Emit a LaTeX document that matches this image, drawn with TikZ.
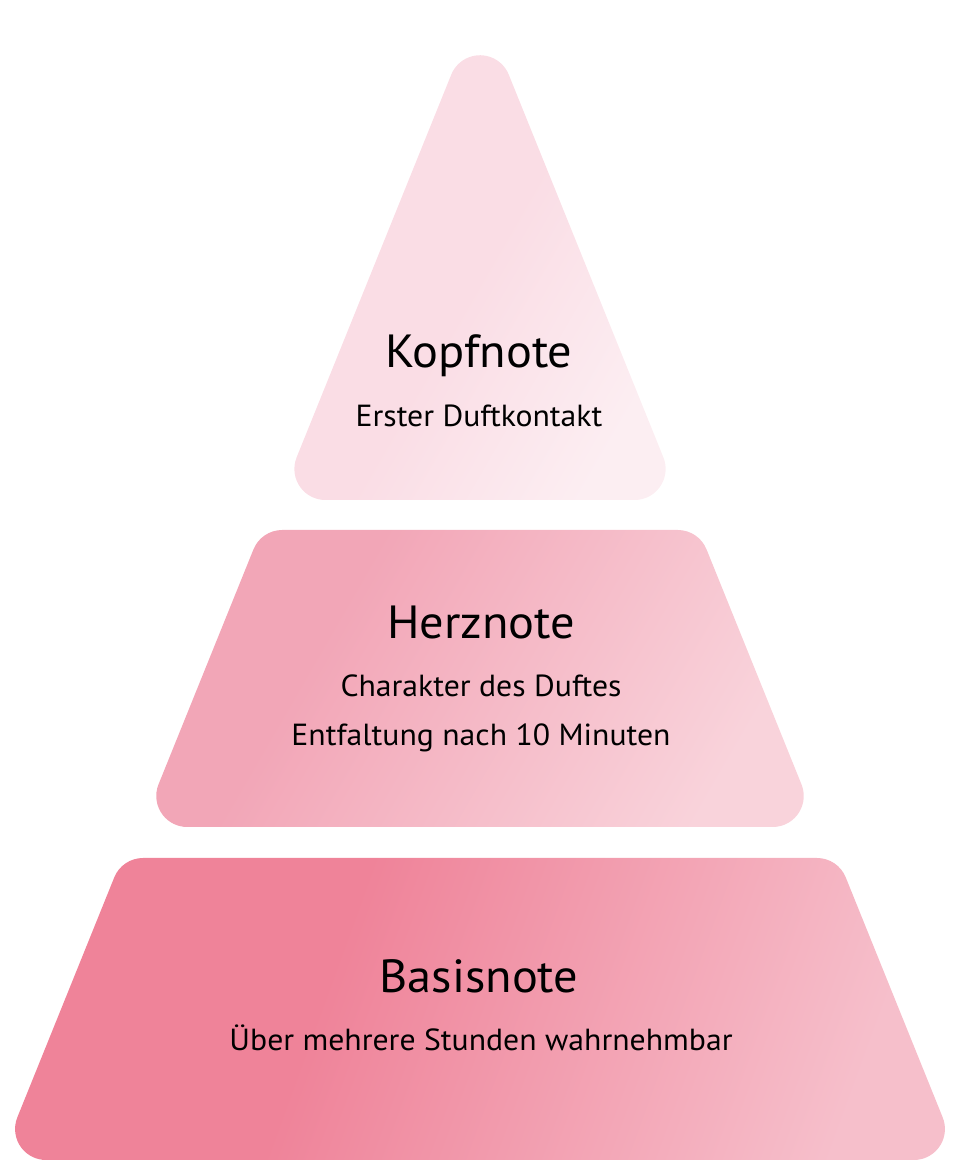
\documentclass[tikz,border=0pt]{standalone}
\usepackage{fontspec}
\setmainfont{PT Sans}[FakeStretch=1.04]
\usetikzlibrary{calc}
\definecolor{kopfA}{HTML}{FADDE5}
\definecolor{kopfB}{HTML}{FCEEF2}
\definecolor{herzA}{HTML}{F2A6B7}
\definecolor{herzB}{HTML}{F9D3DB}
\definecolor{basisA}{HTML}{EF8399}
\definecolor{basisB}{HTML}{F6BFCB}
\pgfdeclarehorizontalshading{kopfshade}{100bp}{color(0bp)=(kopfA); color(50bp)=(kopfA); color(75bp)=(kopfB); color(100bp)=(kopfB)}
\pgfdeclarehorizontalshading{herzshade}{100bp}{color(0bp)=(herzA); color(35bp)=(herzA); color(75bp)=(herzB); color(100bp)=(herzB)}
\pgfdeclarehorizontalshading{basisshade}{100bp}{color(0bp)=(basisA); color(40bp)=(basisA); color(75bp)=(basisB); color(100bp)=(basisB)}
\newcommand\cornerR{31}
\newcommand\tanBot{45.96}
\newcommand\tanTop{20.91}
% #1 style, #2 Y top, #3 Y bottom, #4 x top-left, #5 x bottom-left
\newcommand\trapband[5]{%
  \shade[#1] ({#5+\tanBot+\cornerR*cos(158)},{#3+\cornerR+\cornerR*sin(158)})
    arc[start angle=158,end angle=270,radius=\cornerR]
    -- ({960-#5-\tanBot},{#3})
    arc[start angle=270,end angle=382,radius=\cornerR]
    -- ({960-#4-\tanTop+\cornerR*cos(22)},{#2-\cornerR+\cornerR*sin(22)})
    arc[start angle=22,end angle=90,radius=\cornerR]
    -- ({#4+\tanTop},{#2})
    arc[start angle=90,end angle=158,radius=\cornerR]
    -- cycle;}
\begin{document}
\begin{tikzpicture}[x=1pt,y=1pt,
  head/.style={anchor=base,inner sep=0pt,font=\fontsize{46.5}{50}\selectfont,text=black},
  sub/.style={anchor=base,inner sep=0pt,font=\fontsize{30.5}{34}\selectfont,text=black}]
\useasboundingbox (0,0) rectangle (960,1161);
% top triangle
\shade[shading=kopfshade,shading angle=-30]
  ({325.36+\cornerR*cos(158)},{692+\cornerR*sin(158)})
  arc[start angle=158,end angle=270,radius=\cornerR]
  -- (634.64,661)
  arc[start angle=270,end angle=382,radius=\cornerR]
  -- ({480+\cornerR*cos(22)},{1074.75+\cornerR*sin(22)})
  arc[start angle=22,end angle=158,radius=\cornerR]
  -- cycle;
% middle band
\trapband{shading=herzshade,shading angle=-30}{631}{334}{261.3}{141.3}
% bottom band
\trapband{shading=basisshade,shading angle=-20}{303}{1}{122.1}{0.1}
% texts
\node[head] (kopf) at (479,793) {Kopfnote};
\node[sub] (kopfsub) at (479,734) {Erster Duftkontakt};
\node[head] (herz) at (481,522) {Herznote};
\node[sub] (herzsubA) at (481,464) {Charakter des Duftes};
\node[sub] (herzsubB) at (481,415) {Entfaltung nach 10 Minuten};
\node[head] (basis) at (479,168) {Basisnote};
\node[sub] (basissub) at (481,110) {Über mehrere Stunden wahrnehmbar};
\end{tikzpicture}
\end{document}
